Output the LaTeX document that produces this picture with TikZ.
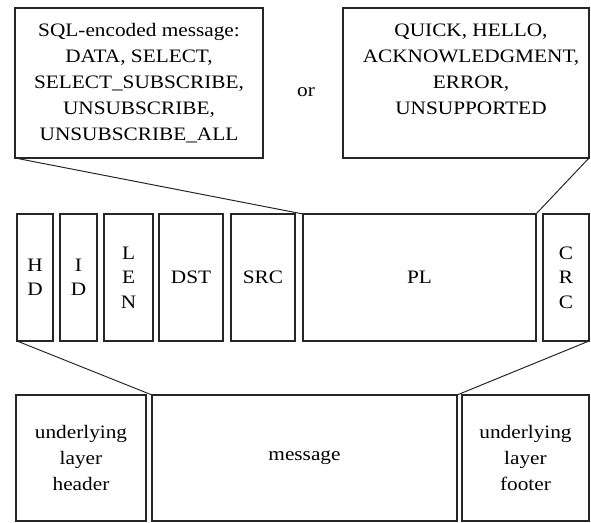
\documentclass[tikz,border=0pt]{standalone}
\usepackage{fontspec}
\setmainfont{Liberation Serif}[FakeStretch=1.12]
\begin{document}
\begin{tikzpicture}[x=1pt,y=-1pt,
  box/.style={draw=black!85, line width=1.8pt, rectangle, inner sep=0pt, outer sep=0pt,
              align=center, font=\fontsize{19}{26}\selectfont},
  narrow/.style={box, font=\fontsize{19}{24.5}\selectfont},
  txt/.style={inner sep=0pt, align=center, font=\fontsize{19}{26}\selectfont},
  link/.style={draw=black!85, line width=1pt}]
  \useasboundingbox (0,0) rectangle (591,522);

  % message-type boxes
  \node[box, minimum width=248, minimum height=150] (tl) at (139,83)
    {SQL-encoded message:\\DATA, SELECT,\\SELECT\_SUBSCRIBE,\\UNSUBSCRIBE,\\UNSUBSCRIBE\_ALL};
  \node[txt] (or) at (306,92) {or};
  \node[box, minimum width=246, minimum height=150] (tr) at (466,83) {};
  \node[txt] (trtext) at (471,69)
    {QUICK, HELLO,\\ACKNOWLEDGMENT,\\ERROR,\\UNSUPPORTED};

  % message fields
  \node[narrow, minimum width=36, minimum height=127] (hd)  at (35,277.5)   {H\\D};
  \node[narrow, minimum width=37, minimum height=127] (id)  at (78.5,277.5) {I\\D};
  \node[narrow, minimum width=49, minimum height=127] (len) at (128.5,277.5) {L\\E\\N};
  \node[box, minimum width=64, minimum height=127] (dst) at (191,277.5) {DST};
  \node[box, minimum width=64, minimum height=127] (src) at (263,277.5) {SRC};
  \node[box, minimum width=233, minimum height=127] (pl) at (419.5,277.5) {PL};
  \node[narrow, minimum width=46, minimum height=127] (crc) at (566,277.5) {C\\R\\C};

  % underlying layer frame
  \node[box, minimum width=130, minimum height=126] (ulh) at (81,458)
    {underlying\\layer\\header};
  \node[box, minimum width=305, minimum height=126] (msg) at (304.5,458) {message};
  \node[box, minimum width=127, minimum height=126] (ulf) at (525.5,458)
    {underlying\\layer\\footer};

  % expansion lines
  \draw[link] (tl.south west) -- (pl.north west);
  \draw[link] (tr.south east) -- (pl.north east);
  \draw[link] (hd.south west) -- (msg.north west);
  \draw[link] (crc.south east) -- (msg.north east);
\end{tikzpicture}
\end{document}
